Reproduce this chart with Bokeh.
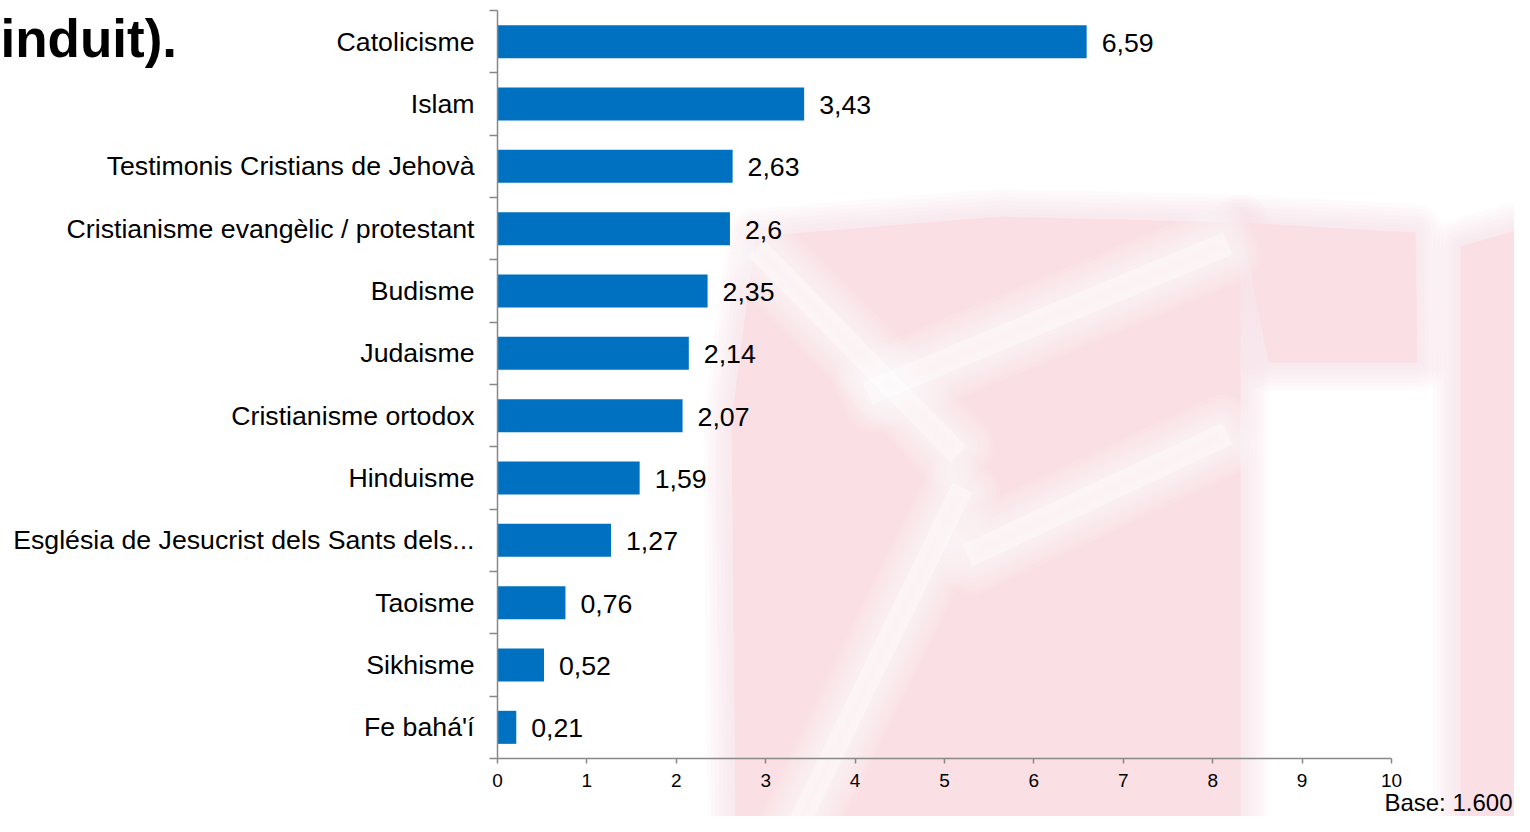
from bokeh.plotting import figure
from bokeh.models import (ColumnDataSource, Range1d, FixedTicker, LabelSet, Label)
from bokeh.core.properties import value
from bokeh.embed import file_html
from bokeh.resources import INLINE

categories = ["Catolicisme", "Islam", "Testimonis Cristians de Jehovà",
              "Cristianisme evangèlic / protestant", "Budisme", "Judaisme",
              "Cristianisme ortodox", "Hinduisme",
              "Església de Jesucrist dels Sants dels...", "Taoisme",
              "Sikhisme", "Fe bahá'í"]
values = [6.59, 3.43, 2.63, 2.6, 2.35, 2.14, 2.07, 1.59, 1.27, 0.76, 0.52, 0.21]
x_ticks = [0, 1, 2, 3, 4, 5, 6, 7, 8, 9, 10]
title_fragment = "induit)."
base_note = "Base: 1.600"

n = len(categories)
ypos = [n - i - 0.5 for i in range(n)]
labels = [("%g" % v).replace(".", ",") for v in values]
src = ColumnDataSource(dict(y=ypos, v=values, lab=labels, cat=categories))

# ---- layout (pixels of the canvas) ----
FONT = "Liberation Sans"
W, H = 1514, 816
PX0, PX10 = 497, 1391        # x = 0 and x = 10
PYT, PYB = 10, 758           # top and bottom of the category band
XMAX = x_ticks[-1]
KX = (PX10 - PX0) / XMAX
KY = (PYB - PYT) / n

def dx(px):
    return (px - PX0) / KX

def dy(py):
    return (PYB - py) / KY

p = figure(width=W, height=H, output_backend="svg", toolbar_location=None,
           x_range=Range1d(dx(0), dx(W)), y_range=Range1d(dy(H), dy(0)),
           min_border=0, min_border_left=0, min_border_right=0,
           min_border_top=0, min_border_bottom=0)
p.outline_line_color = None
p.background_fill_color = "white"
p.border_fill_color = "white"
p.grid.visible = False

# faint, blurred background watermark of the original slide
PINK = "#FADFE4"

def soft_patches(shapes, color, core_alpha, edge_alpha):
    xs = [[dx(a) for a, b in s] for s in shapes]
    ys = [[dy(b) for a, b in s] for s in shapes]
    for lw in (56, 48, 40, 32, 24, 16, 8):
        p.patches(xs, ys, fill_alpha=0, line_color=color, line_alpha=edge_alpha,
                  line_width=lw, line_join="round")
    p.patches(xs, ys, fill_color=color, fill_alpha=core_alpha, line_color=None)

wm_shapes = [
    [(735, 832), (731, 420), (755, 236), (1000, 216), (1240, 222), (1240, 832)],
    [(1240, 222), (1415, 232), (1417, 362), (1268, 362)],
    [(1460, 246), (1530, 226), (1530, 832), (1460, 832)],
]
soft_patches(wm_shapes, PINK, 1.0, 0.13)

wm_white = [
    [(782, 832), (806, 832), (972, 492), (952, 482)],
    [(862, 382), (872, 404), (1232, 254), (1222, 232)],
    [(962, 544), (972, 566), (1232, 444), (1222, 422)],
    [(748, 256), (764, 240), (966, 446), (950, 462)],
]
soft_patches(wm_white, "white", 0.4, 0.1)

p.hbar(y="y", right="v", left=0, height=0.53, source=src,
       fill_color="#0070C0", line_color=None)

p.add_layout(LabelSet(x="v", y="y", text="lab", source=src, x_offset=15, y_offset=-1,
                      text_align="left", text_baseline="middle",
                      text_font=value(FONT), text_font_size=value("26.7px"),
                      text_color="black"))

# x axis
xa = p.xaxis[0]
xa.fixed_location = 0
xa.bounds = (0, XMAX)
xa.ticker = FixedTicker(ticks=x_ticks)
xa.axis_line_color = "#888888"
xa.axis_line_width = 1.5
xa.major_tick_line_color = "#888888"
xa.major_tick_line_width = 1.5
xa.major_tick_out = 5
xa.major_tick_in = 0
xa.minor_tick_line_color = None
xa.major_label_text_font = FONT
xa.major_label_text_font_size = "19px"
xa.major_label_text_color = "black"
xa.major_label_standoff = 10

# y axis: labels at centres, ticks at boundaries
ya = p.yaxis[0]
ya.fixed_location = 0
ya.bounds = (0, n)
ya.ticker = FixedTicker(ticks=ypos, minor_ticks=list(range(n + 1)))
ya.major_label_overrides = {y: c for y, c in zip(ypos, categories)}
ya.axis_line_color = "#888888"
ya.axis_line_width = 1.5
ya.major_tick_line_color = None
ya.major_tick_out = 0
ya.major_tick_in = 0
ya.minor_tick_line_color = "#888888"
ya.minor_tick_line_width = 1.5
ya.minor_tick_out = 8
ya.minor_tick_in = 0
ya.major_label_text_font = FONT
ya.major_label_text_font_size = "26.7px"
ya.major_label_text_color = "black"
ya.major_label_standoff = 15

p.add_layout(Label(x=dx(1512), y=dy(802), text=base_note, text_align="right",
                   text_baseline="middle", text_font=FONT, text_font_size="24px",
                   text_color="black"))
p.add_layout(Label(x=dx(0), y=dy(38), text=title_fragment, text_align="left",
                   text_baseline="alphabetic", text_font=FONT, text_font_size="53px",
                   text_font_style="bold", text_color="black"))

open("out.html", "w").write(file_html(p, INLINE))
